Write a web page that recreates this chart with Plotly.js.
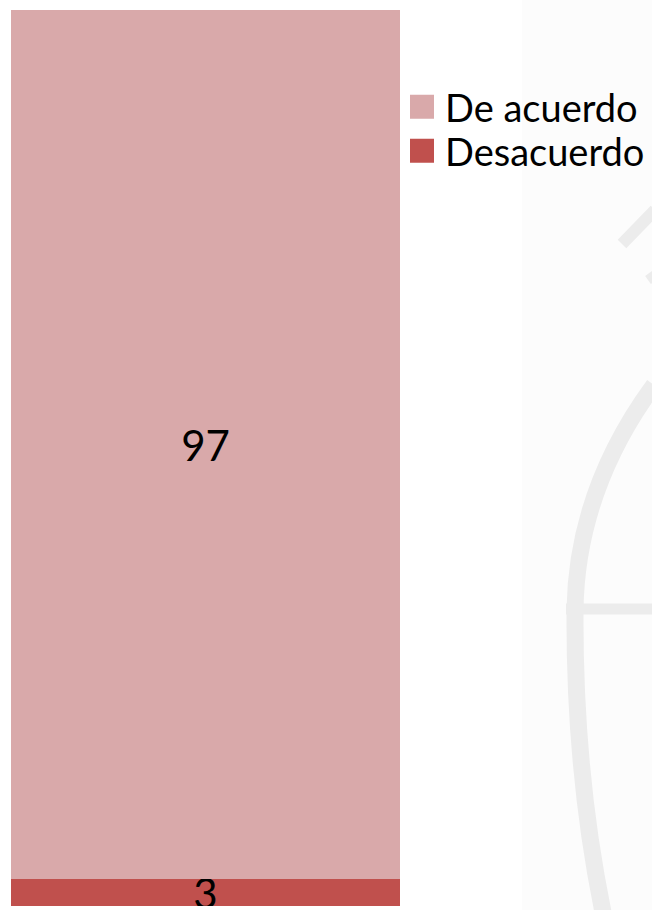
<!DOCTYPE html>
<html><head><meta charset="utf-8">
<script src="https://cdn.plot.ly/plotly-3.0.1.min.js"></script>
<style>html,body{margin:0;padding:0;background:#fff}</style>
</head><body>
<div id="chart" style="width:652px;height:910px"></div>
<script>
const categories = ["Respuesta"];
const seriesNames = ["Desacuerdo", "De acuerdo"];
const desacuerdo = [3];
const deAcuerdo = [97];
const seriesColors = ["#c0504d", "#d9a9aa"];

const W = 652, H = 910, L = 11, R = 400, T = 10, B = 906;
const fx = x => x / W;             // pixel -> paper x (full-width paper)
const fy = y => (B - y) / (B - T); // pixel -> paper y
const P = (x, y) => fx(x).toFixed(4) + "," + fy(y).toFixed(4);
const FONT = "Lato, 'Open Sans', sans-serif";

const traces = [
  {type: "bar", x: categories, y: desacuerdo, name: seriesNames[0], legend: "legend2",
   marker: {color: seriesColors[0]}, text: desacuerdo.map(String),
   textposition: "inside", insidetextanchor: "middle", constraintext: "none", textangle: 0,
   textfont: {family: FONT, size: 42, color: "#000"}, hoverinfo: "name+y"},
  {type: "bar", x: categories, y: deAcuerdo, name: seriesNames[1], legend: "legend",
   marker: {color: seriesColors[1]}, text: deAcuerdo.map(String),
   textposition: "inside", insidetextanchor: "middle", constraintext: "none", textangle: 0,
   textfont: {family: FONT, size: 42, color: "#000"}, hoverinfo: "name+y"}
];

const legendBase = {xanchor: "left", yanchor: "middle", font: {family: FONT, size: 38, color: "#000"},
                    bgcolor: "rgba(0,0,0,0)", itemwidth: 30, borderwidth: 0};
const wm = "#ececec";
const layout = {
  width: W, height: H,
  margin: {l: 0, r: 0, t: T, b: H - B, pad: 0},
  paper_bgcolor: "#ffffff", plot_bgcolor: "rgba(0,0,0,0)",
  barmode: "stack", bargap: 0,
  showlegend: true,
  legend: Object.assign({x: fx(405), y: fy(107)}, legendBase),
  legend2: Object.assign({x: fx(405), y: fy(151)}, legendBase),
  xaxis: {visible: false, fixedrange: true, domain: [L / W, R / W]},
  yaxis: {visible: false, range: [0, 100], fixedrange: true},
  shapes: [
    {type: "rect", xref: "paper", yref: "paper", x0: fx(522), x1: fx(652), y0: fy(0), y1: fy(910),
     fillcolor: "#fcfcfc", line: {width: 0}, layer: "below"},
    {type: "path", xref: "paper", yref: "paper", layer: "below",
     path: "M" + P(654, 385) + " Q" + P(577, 490) + " " + P(575, 609) + " Q" + P(574, 770) + " " + P(603, 912),
     line: {color: wm, width: 17}},
    {type: "line", xref: "paper", yref: "paper", layer: "below",
     x0: fx(566), y0: fy(609), x1: fx(652), y1: fy(609), line: {color: wm, width: 11}},
    {type: "line", xref: "paper", yref: "paper", layer: "below",
     x0: fx(622), y0: fy(244), x1: fx(655), y1: fy(210), line: {color: wm, width: 12}},
    {type: "line", xref: "paper", yref: "paper", layer: "below",
     x0: fx(648), y0: fy(280), x1: fx(655), y1: fy(275), line: {color: wm, width: 10}}
  ]
};

Plotly.newPlot("chart", traces, layout, {displayModeBar: false, staticPlot: true}).then(gd => {
  // enlarge the legend swatches to the reference's 24px squares at x 410-434
  document.querySelectorAll(".legendpoints path").forEach(p => {
    const m = p.getScreenCTM();
    const x0 = (410 - m.e) / m.a, x1 = (434 - m.e) / m.a;
    p.setAttribute("d", "M" + x0 + ",-12H" + x1 + "V12H" + x0 + "Z");
    p.style.strokeWidth = "0px";
  });
});
</script>
</body></html>
